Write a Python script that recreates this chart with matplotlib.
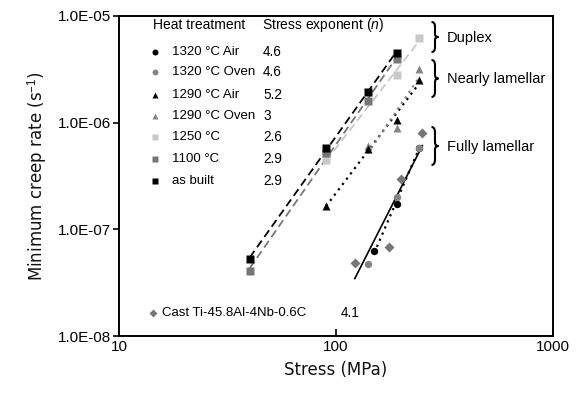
import numpy as np
import matplotlib
matplotlib.use("Agg")
import matplotlib.pyplot as plt
from matplotlib.path import Path
from matplotlib.patches import PathPatch

plt.rcParams['font.family'] = ['Liberation Sans', 'DejaVu Sans']
plt.rcParams['mathtext.fontset'] = 'custom'
plt.rcParams['mathtext.rm'] = 'Liberation Sans'
plt.rcParams['mathtext.it'] = 'Liberation Sans:italic'

# ---- creep data: stress (MPa) vs minimum creep rate (1/s) ----
stress_asbuilt = [40, 90, 140, 190]
rate_asbuilt = [5.3e-8, 5.8e-7, 1.95e-6, 4.5e-6]

stress_1100 = [40, 90, 140, 190]
rate_1100 = [4.1e-8, 5.2e-7, 1.6e-6, 3.95e-6]

stress_1250 = [90, 190, 240]
rate_1250 = [4.5e-7, 2.8e-6, 6.2e-6]

stress_1290_air = [90, 140, 190, 240]
rate_1290_air = [1.66e-7, 5.7e-7, 1.06e-6, 2.5e-6]

stress_1290_oven = [140, 190, 240]
rate_1290_oven = [6.0e-7, 9.0e-7, 3.2e-6]

stress_1320_air = [150, 190, 240]
rate_1320_air = [6.2e-8, 1.72e-7, 5.75e-7]

stress_1320_oven = [140, 190, 240]
rate_1320_oven = [4.75e-8, 2.0e-7, 5.75e-7]

stress_cast = [122, 175, 200, 250]
rate_cast = [4.8e-8, 6.8e-8, 2.95e-7, 8.0e-7]

legend_labels = ["1320 \u00b0C Air", "1320 \u00b0C Oven", "1290 \u00b0C Air",
                 "1290 \u00b0C Oven", "1250 \u00b0C", "1100 \u00b0C", "as built"]
legend_exponents = ["4.6", "4.6", "5.2", "3", "2.6", "2.9", "2.9"]
cast_label = "Cast Ti-45.8Al-4Nb-0.6C"
cast_exponent = "4.1"

x_ticks = [10, 100, 1000]
y_ticks = [1e-8, 1e-7, 1e-6, 1e-5]
y_tick_labels = ["1.0E-08", "1.0E-07", "1.0E-06", "1.0E-05"]

BLACK = "#000000"
DARK = "#767676"
MID = "#858585"
LIGHT = "#c8c8c8"

fig = plt.figure(figsize=(5.84, 3.94), dpi=100)
ax = fig.add_axes([0.2038, 0.1472, 0.7432, 0.8122])
ax.set_xscale('log')
ax.set_yscale('log')
ax.set_xlim(10, 1000)
ax.set_ylim(1e-8, 1e-5)


def power_fit(ax, s, r, **kw):
    """Least-squares power-law trendline drawn over the data range."""
    ls, lr = np.log10(s), np.log10(r)
    k, b = np.polyfit(ls, lr, 1)
    xs = np.array([min(s), max(s)], dtype=float)
    ax.plot(xs, 10 ** (b + k * np.log10(xs)), **kw)


dash = (0, (4.5, 2.5))
dot = (0, (1, 2))
power_fit(ax, stress_asbuilt, rate_asbuilt, color=BLACK, lw=1.3, ls=dash, zorder=2)
power_fit(ax, stress_1100, rate_1100, color=DARK, lw=1.3, ls=dash, zorder=2)
power_fit(ax, stress_1250, rate_1250, color=LIGHT, lw=1.3, ls=dash, zorder=2)
power_fit(ax, stress_1290_air, rate_1290_air, color=BLACK, lw=1.6, ls=dot, zorder=2)
power_fit(ax, stress_1290_oven, rate_1290_oven, color=MID, lw=1.6, ls=dot, zorder=2)
power_fit(ax, stress_1320_air, rate_1320_air, color=BLACK, lw=1.6, ls=dot, zorder=2)
power_fit(ax, stress_cast, rate_cast, color=BLACK, lw=1.2, ls='-', zorder=2)

ax.plot(stress_cast, rate_cast, ls='none', marker='D', ms=5.5, color=DARK, mec='none', zorder=3)
ax.plot(stress_1250, rate_1250, ls='none', marker='s', ms=5.8, color=LIGHT, mec='none', zorder=3)
ax.plot(stress_1100, rate_1100, ls='none', marker='s', ms=5.8, color=DARK, mec='none', zorder=4)
ax.plot(stress_asbuilt, rate_asbuilt, ls='none', marker='s', ms=5.8, color=BLACK, mec='none', zorder=5)
ax.plot(stress_1290_oven, rate_1290_oven, ls='none', marker='^', ms=6, color=MID, mec='none', zorder=3)
ax.plot(stress_1290_air, rate_1290_air, ls='none', marker='^', ms=6, color=BLACK, mec='none', zorder=4)
ax.plot(stress_1320_air, rate_1320_air, ls='none', marker='o', ms=5.3, color=BLACK, mec='none', zorder=3)
ax.plot(stress_1320_oven, rate_1320_oven, ls='none', marker='o', ms=5.3, color=MID, mec='none', zorder=4)

# axes styling
for sp in ax.spines.values():
    sp.set_linewidth(1.4)
ax.set_xticks(x_ticks)
ax.set_xticklabels([str(t) for t in x_ticks])
ax.set_yticks(y_ticks)
ax.set_yticklabels(y_tick_labels)
ax.minorticks_off()
ax.tick_params(axis='x', direction='in', length=5, width=1.2, labelsize=11, pad=3)
ax.tick_params(axis='y', direction='out', length=4, width=1.2, labelsize=11, pad=2)
ax.set_xlabel("Stress (MPa)", family='DejaVu Sans', fontsize=12, labelpad=5, color='#111111')
ax.set_ylabel(r"Minimum creep rate (s$^{-1}$)", family='DejaVu Sans', fontsize=12,
              labelpad=6, color='#111111')

# in-plot legend table
tf = ax.transAxes
ax.text(0.078, 0.972, "Heat treatment", transform=tf, fontsize=10, va='center')
ax.text(0.3295, 0.972, r"Stress exponent ($\it{n}$)", transform=tf, fontsize=10, va='center')
row_y = [0.888, 0.825, 0.753, 0.688, 0.622, 0.553, 0.484]
row_style = [dict(marker='o', color=BLACK), dict(marker='o', color=MID),
             dict(marker='^', color=BLACK), dict(marker='^', color=MID),
             dict(marker='s', color=LIGHT), dict(marker='s', color=DARK),
             dict(marker='s', color=BLACK)]
for y, lab, n, st in zip(row_y, legend_labels, legend_exponents, row_style):
    ax.plot([0.083], [y], transform=tf, ls='none', ms=4.3, mec='none', clip_on=False, **st)
    ax.text(0.122, y, lab, transform=tf, fontsize=9.5, va='center')
    ax.text(0.332, y, n, transform=tf, fontsize=9.8, va='center')
ax.plot([0.079], [0.072], transform=tf, ls='none', marker='D', ms=4.3, color=DARK, mec='none')
ax.text(0.098, 0.072, cast_label, transform=tf, fontsize=9.5, va='center')
ax.text(0.5115, 0.072, cast_exponent, transform=tf, fontsize=9.8, va='center')


def brace(ax, x, y0, y1, w):
    """Right-facing curly brace in axes coordinates."""
    ym = 0.5 * (y0 + y1)
    h = y1 - y0
    verts = [(x, y1),
             (x + w * 0.5, y1), (x + w * 0.5, y1 - h * 0.15),
             (x + w * 0.5, ym + h * 0.1),
             (x + w * 0.5, ym), (x + w, ym),
             (x + w * 0.5, ym), (x + w * 0.5, ym - h * 0.1),
             (x + w * 0.5, y0 + h * 0.15),
             (x + w * 0.5, y0), (x, y0)]
    codes = [Path.MOVETO,
             Path.CURVE3, Path.CURVE3,
             Path.LINETO,
             Path.CURVE3, Path.CURVE3,
             Path.CURVE3, Path.CURVE3,
             Path.LINETO,
             Path.CURVE3, Path.CURVE3]
    ax.add_patch(PathPatch(Path(verts, codes), transform=ax.transAxes, fill=False,
                           lw=1.5, color=BLACK, clip_on=False))


bx, bw = 0.720, 0.016
brace(ax, bx, (336 - 52) / 320, (336 - 22) / 320, bw)
brace(ax, bx, (336 - 97) / 320, (336 - 60) / 320, bw)
brace(ax, bx, (336 - 165) / 320, (336 - 127) / 320, bw)
ax.text(0.755, (336 - 38) / 320, "Duplex", transform=tf, fontsize=10.5, va='center')
ax.text(0.755, (336 - 79) / 320, "Nearly lamellar", transform=tf, fontsize=10.5, va='center')
ax.text(0.755, (336 - 147) / 320, "Fully lamellar", transform=tf, fontsize=10.5, va='center')

fig.savefig("out.png", dpi=100)
